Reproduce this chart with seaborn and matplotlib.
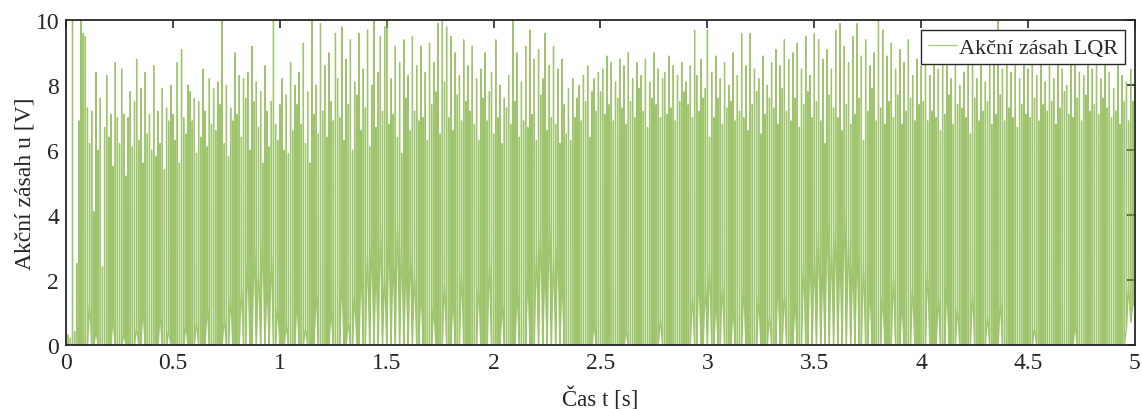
import numpy as np
import pandas as pd
import matplotlib
matplotlib.use("Agg")
import matplotlib.pyplot as plt
from matplotlib.lines import Line2D
import seaborn as sns

# Control action of the LQR regulator: one narrow pulse every 10 ms.
# u_peak is the top of each pulse, u_low the level the signal sits at before it.
u_peak = [
    0.0, 0.3, 0.2, 10.0, 0.4, 2.5, 6.9, 10.0, 9.6, 9.5,
    7.3, 6.2, 7.2, 4.1, 8.4, 6.0, 7.6, 2.4, 6.7, 8.3,
    6.4, 7.1, 5.5, 8.7, 7.0, 6.2, 8.5, 7.1, 5.2, 7.0,
    7.8, 6.1, 7.5, 8.8, 6.3, 7.9, 5.6, 8.4, 6.5, 7.1,
    6.0, 8.6, 5.8, 7.2, 6.2, 7.9, 5.4, 7.3, 6.9, 8.0,
    7.1, 6.3, 8.7, 5.6, 9.1, 7.0, 6.5, 8.0, 7.8, 6.9,
    7.6, 5.9, 7.5, 6.4, 8.5, 7.2, 6.1, 8.2, 6.8, 7.9,
    6.6, 8.1, 7.4, 10.0, 6.2, 8.0, 5.8, 7.3, 6.9, 9.0,
    7.1, 8.3, 6.4, 8.2, 7.6, 8.4, 6.0, 9.2, 7.5, 8.1,
    6.7, 7.8, 5.6, 8.6, 7.2, 6.1, 7.5, 10.0, 6.8, 6.3,
    7.4, 8.2, 6.0, 7.7, 5.9, 8.7, 6.6, 8.0, 7.4, 8.4,
    6.8, 9.3, 6.2, 7.8, 5.6, 10.0, 7.1, 8.0, 6.5, 9.9,
    7.2, 8.6, 6.4, 9.0, 7.5, 6.9, 9.6, 8.2, 7.0, 9.8,
    6.3, 8.8, 7.4, 9.4, 6.0, 8.1, 7.7, 9.6, 6.6, 8.5,
    7.3, 9.7, 6.1, 8.0, 10.0, 6.7, 8.4, 9.5, 7.2, 9.8,
    10.0, 6.8, 8.2, 7.1, 9.2, 6.4, 8.7, 5.9, 9.4, 7.6,
    8.3, 6.6, 9.5, 7.2, 8.6, 6.9, 9.2, 7.0, 8.4, 6.3,
    9.3, 7.4, 8.7, 7.8, 9.9, 6.5, 10.0, 8.1, 9.8, 7.0,
    9.5, 6.6, 9.0, 7.7, 8.3, 6.9, 9.4, 7.5, 8.6, 7.2,
    9.2, 6.8, 8.2, 6.3, 8.5, 7.6, 9.0, 6.9, 7.8, 8.4,
    6.5, 9.4, 7.0, 8.0, 6.2, 7.6, 7.3, 8.3, 6.8, 10.0,
    7.5, 9.0, 6.4, 8.1, 6.9, 9.2, 6.7, 9.7, 7.1, 8.8,
    6.3, 9.1, 7.7, 8.2, 9.6, 6.6, 8.6, 7.0, 9.2, 6.8,
    8.5, 6.2, 8.8, 7.4, 6.5, 7.9, 6.3, 8.2, 7.0, 7.6,
    8.0, 6.9, 8.3, 7.5, 8.6, 6.4, 7.8, 8.2, 7.2, 8.4,
    7.8, 8.5, 7.1, 8.9, 7.4, 8.7, 6.9, 8.1, 7.6, 8.8,
    7.3, 8.6, 6.8, 9.0, 7.5, 8.2, 7.0, 8.7, 7.9, 8.3,
    7.2, 8.8, 6.7, 8.1, 7.6, 9.0, 7.4, 8.5, 7.0, 8.2,
    8.4, 7.1, 8.9, 7.3, 8.6, 6.9, 8.3, 7.5, 8.7, 7.8,
    8.1, 7.4, 8.6, 7.0, 9.7, 8.3, 7.2, 8.8, 7.6, 7.9,
    9.7, 6.4, 8.4, 7.0, 8.9, 7.6, 8.2, 6.8, 8.7, 7.3,
    8.0, 7.5, 9.0, 6.9, 8.3, 7.2, 9.6, 7.0, 8.6, 6.6,
    9.6, 7.4, 8.5, 7.8, 8.2, 6.5, 8.9, 7.1, 8.0, 7.6,
    8.7, 7.3, 9.1, 6.8, 8.6, 7.9, 9.4, 7.2, 8.8, 6.9,
    9.0, 7.6, 9.3, 6.7, 8.5, 7.4, 9.5, 7.8, 8.3, 7.0,
    9.6, 7.5, 9.4, 6.9, 8.8, 6.2, 9.1, 7.7, 8.5, 7.3,
    9.7, 7.0, 9.9, 6.6, 9.2, 7.4, 8.7, 6.8, 9.5, 7.1,
    9.9, 7.6, 8.9, 6.3, 9.4, 7.2, 8.6, 7.9, 9.0, 6.9,
    10.0, 7.3, 9.7, 6.8, 8.9, 7.5, 9.3, 7.0, 8.5, 7.7,
    9.1, 6.8, 8.7, 7.2, 9.4, 7.6, 8.3, 6.9, 8.8, 7.4,
    8.6, 7.5, 9.0, 6.9, 8.3, 7.2, 8.8, 7.0, 8.5, 6.6,
    9.3, 7.1, 8.6, 7.7, 8.2, 6.8, 8.9, 7.4, 8.0, 7.3,
    8.4, 7.0, 8.7, 6.5, 9.0, 7.6, 8.2, 6.9, 8.6, 7.2,
    8.1, 7.5, 9.2, 6.8, 8.7, 7.1, 10.0, 7.7, 8.5, 6.9,
    8.9, 7.3, 8.4, 7.0, 8.6, 6.7, 8.2, 7.4, 8.8, 7.1,
    8.5, 7.0, 8.8, 7.6, 8.3, 6.9, 8.7, 7.4, 8.1, 7.2,
    8.6, 7.5, 8.2, 6.8, 8.9, 7.3, 8.5, 7.8, 8.0, 7.1,
    8.7, 7.0, 8.8, 7.6, 8.4, 6.9, 8.3, 7.7, 8.9, 7.2,
    8.5, 7.4, 8.6, 7.1, 8.2, 7.6, 8.8, 7.3, 8.4, 7.0,
    7.9, 7.2, 8.6, 6.8, 8.3, 7.5, 8.1, 6.9, 8.5, 7.5,
]

u_low = [
    0, 0, 0, 0, 0, 0, 0, 0, 0, 0,
    0, 1.3, 0, 0, 0.4, 0, 0, 0, 0, 0,
    0, 0, 0.8, 0, 0, 0, 0, 0.3, 0, 0,
    0, 0, 0, 0.5, 0, 0, 1.1, 0, 0, 0,
    0, 0, 0, 0, 0.9, 0, 0, 0, 0.4, 0,
    0, 0, 0, 0, 0, 0, 0.6, 0, 0, 0,
    0, 0.7, 0, 0, 0, 0, 1.2, 0, 0, 0,
    0, 0, 0, 0, 0.8, 0, 0, 1.5, 0, 0,
    0, 0, 1.8, 0, 0, 2.6, 0, 0, 3.1, 0,
    2.4, 0, 3.4, 0, 1.9, 0, 2.8, 0, 0, 1.2,
    0, 0, 0, 0.6, 0, 0, 0, 0, 1.4, 0,
    0, 0, 0.5, 0, 0, 0, 0, 1.7, 0, 0,
    0, 0, 0, 0, 1.1, 0, 0, 0, 0, 2.1,
    0, 0, 0.7, 0, 0, 1.6, 0, 0, 2.4, 0,
    0, 2.9, 0, 3.3, 0, 2.5, 0, 3.8, 0, 2.2,
    0, 3.5, 0, 2.7, 0, 4.0, 0, 3.1, 0, 2.6,
    0, 3.0, 0, 2.3, 0, 0, 1.8, 0, 0, 0,
    0, 0, 1.2, 0, 0, 0, 0, 2.0, 0, 0,
    0, 1.5, 0, 0, 0, 2.4, 0, 0, 0, 0,
    0, 0, 0, 1.9, 0, 0, 0, 0, 2.7, 0,
    0, 0, 0, 0, 1.3, 0, 0, 0, 0, 0,
    0, 1.7, 0, 0, 0, 0, 2.2, 0, 0, 0,
    3.0, 0, 3.6, 0, 2.5, 0, 3.9, 0, 2.8, 0,
    3.3, 0, 2.1, 0, 0, 0, 0, 0, 0, 0,
    0, 0, 0, 0, 0, 0, 0, 0.6, 0, 0,
    0, 0, 0, 0, 0, 0, 0, 0, 0, 0,
    0, 0, 0.4, 0, 0, 0, 0, 0, 0, 0,
    0, 0, 0, 0, 0, 0, 0, 0, 0.8, 0,
    0, 0, 0, 0, 0, 0, 0, 0, 0, 0,
    0, 0, 0, 1.6, 0, 0, 2.3, 0, 0, 1.9,
    0, 2.6, 0, 0, 1.4, 0, 0, 2.0, 0, 0,
    0, 0, 1.1, 0, 0, 0, 0, 1.8, 0, 0,
    0, 0, 0, 0, 1.5, 0, 0, 0, 0, 0.9,
    0, 0, 0, 2.1, 0, 0, 1.7, 0, 0, 0,
    0, 1.4, 0, 0, 0, 2.6, 0, 0, 3.0, 0,
    2.8, 0, 3.5, 0, 2.4, 0, 4.1, 0, 3.2, 0,
    3.7, 0, 2.9, 0, 4.3, 0, 3.4, 0, 2.6, 0,
    3.1, 0, 0, 2.5, 0, 0, 1.9, 0, 0, 0,
    0, 0, 1.6, 0, 0, 0, 0, 2.2, 0, 0,
    0, 1.3, 0, 0, 0, 0, 1.8, 0, 0, 0,
    0, 0, 0, 2.4, 0, 0, 0, 0, 1.5, 0,
    0, 0, 1.9, 0, 0, 0, 0, 1.2, 0, 0,
    0, 0, 0, 0, 1.7, 0, 0, 0, 0, 0,
    0, 0.9, 0, 0, 0, 0, 0, 1.4, 0, 0,
    0, 0, 0, 0, 0, 0, 0, 0, 0, 0,
    0, 0, 0, 0.5, 0, 0, 0, 0, 0, 0,
    0, 0, 0, 0, 0, 0, 0, 0, 0, 0,
    0, 0, 0.6, 0, 0, 0, 0, 0, 0, 0,
    0, 0, 0, 0, 0, 0, 0, 0, 0, 0,
    0, 0, 0, 0, 0, 0, 0.5, 1.8, 0.7, 1.2,
]

x_ticks = [0, 0.5, 1, 1.5, 2, 2.5, 3, 3.5, 4, 4.5, 5]
x_tick_labels = ["0", "0.5", "1", "1.5", "2", "2.5", "3", "3.5", "4", "4.5", "5"]
y_ticks = [0, 2, 4, 6, 8, 10]
y_tick_labels = ["0", "2", "4", "6", "8", "10"]

GREEN = "#77AC30"
period = 0.01      # pulse spacing [s]
rise = 0.0004      # pulse half-width [s]

n = len(u_peak)
t0 = np.arange(n) * period
t = np.column_stack([t0, t0 + rise, t0 + 2 * rise]).ravel()
u = np.column_stack([u_low, u_peak, u_low]).ravel()
df = pd.DataFrame({"t": t, "u": u})

sns.set_style("white")
plt.rcParams["font.family"] = ["Liberation Serif", "DejaVu Serif"]

fig = plt.figure(figsize=(11.42, 4.10), dpi=100)
ax = fig.add_axes([0.0578, 0.157, 0.936, 0.791])

sns.lineplot(data=df, x="t", y="u", ax=ax, estimator=None, sort=False,
             color=GREEN, linewidth=0.95, alpha=0.7, legend=False)

ax.set_xlim(0, 5)
ax.set_ylim(0, 10)
ax.set_xticks(x_ticks)
ax.set_xticklabels(x_tick_labels)
ax.set_yticks(y_ticks)
ax.set_yticklabels(y_tick_labels)
ax.tick_params(direction="in", length=6, width=1.2, colors="#262626",
               labelsize=17, top=True, right=True, pad=5)
for s in ax.spines.values():
    s.set_color("#262626")
    s.set_linewidth(1.3)

ax.set_xlabel("Čas t [s]", fontsize=16.5, color="#262626", labelpad=10)
ax.set_ylabel("Akční zásah u [V]", fontsize=17, color="#262626", labelpad=0)

handle = Line2D([], [], color=GREEN, linewidth=1.0, alpha=0.6)
leg = ax.legend([handle], ["Akční zásah LQR"], loc="upper right", fontsize=16,
                frameon=True, fancybox=False, handlelength=1.3,
                handletextpad=0.1, borderpad=0.3, borderaxespad=0.45)
leg.get_frame().set_edgecolor("#262626")
leg.get_frame().set_linewidth(1.0)
leg.get_frame().set_alpha(1.0)

fig.savefig("out.png", dpi=100)
